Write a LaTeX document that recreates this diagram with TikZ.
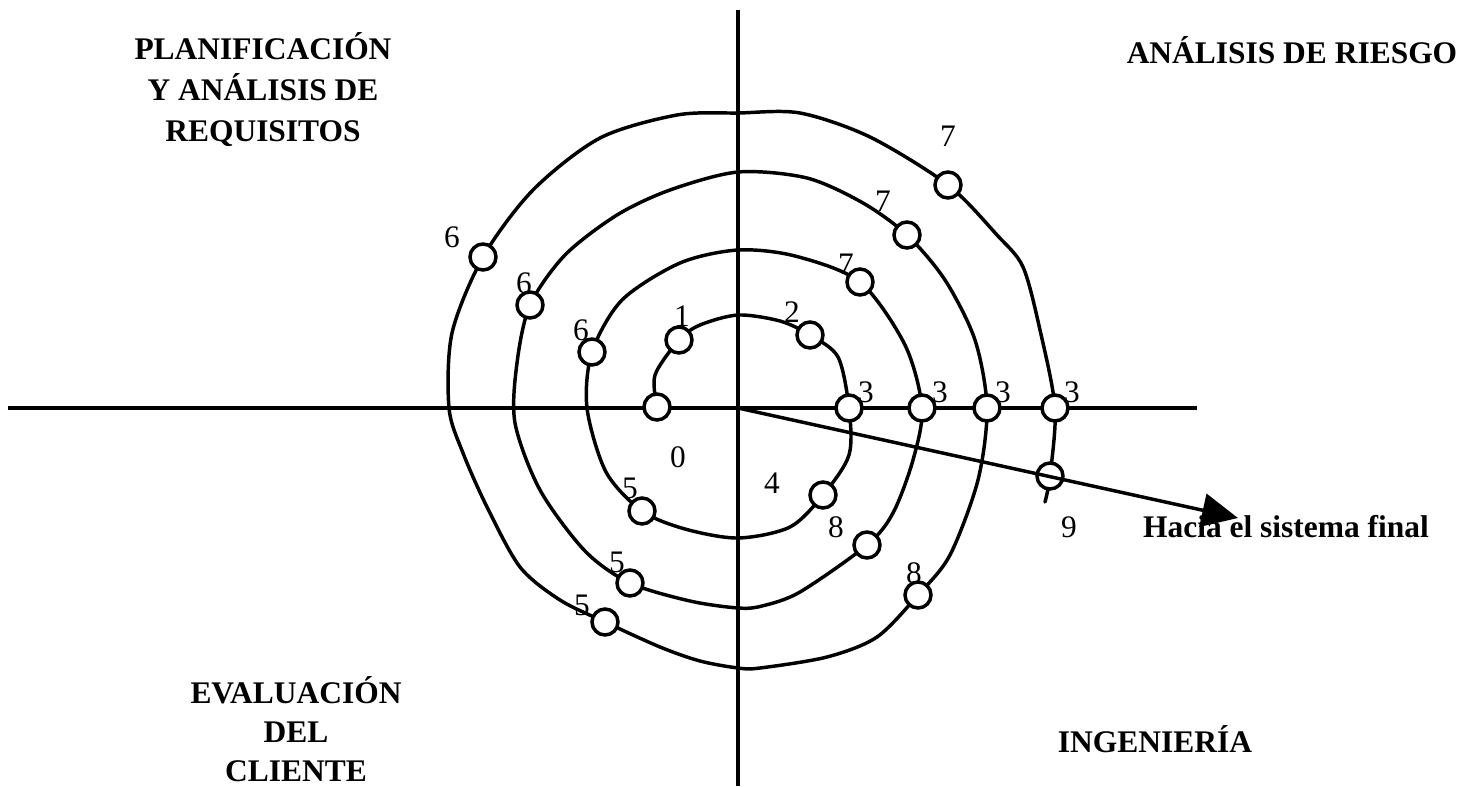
\documentclass[tikz,border=0pt]{standalone}
\usepackage{fontspec}
\setmainfont{Liberation Serif}
\usetikzlibrary{arrows.meta}
\begin{document}
\begin{tikzpicture}[x=0.75pt,y=-0.75pt,
  axis/.style={line width=2.8pt},
  spiral/.style={line width=2.6pt, line join=round, line cap=round},
  pt/.style={circle, draw, fill=white, line width=2.6pt, minimum size=19.5pt, inner sep=0pt},
  num/.style={font=\fontsize{23.5pt}{28pt}\selectfont, inner sep=0pt},
  title/.style={font=\fontsize{23.6pt}{30.75pt}\selectfont\bfseries, align=center, inner sep=0pt},
]
\useasboundingbox (0,0) rectangle (1478,786);
% axes
\coordinate (o) at (738,408);
\coordinate (vt) at (738,10);
\coordinate (vb) at (738,786);
\coordinate (hl) at (8,408);
\coordinate (hr) at (1197,408);
\draw[axis] (vt) -- (vb);
\draw[axis] (hl) -- (hr);
% circle positions
\coordinate (p0) at (657,407);
\coordinate (p1) at (679,340);
\coordinate (p2) at (810,335);
\coordinate (p3a) at (849,408);
\coordinate (p8a) at (823,495);
\coordinate (p5a) at (642,511);
\coordinate (p6a) at (592,352);
\coordinate (p7a) at (860,282);
\coordinate (p3b) at (922,408);
\coordinate (p8b) at (867,545);
\coordinate (p5b) at (630,583);
\coordinate (p6b) at (530,305);
\coordinate (p7b) at (907,235);
\coordinate (p3c) at (987,408);
\coordinate (p8c) at (918,595);
\coordinate (p5c) at (605,622);
\coordinate (p6c) at (483,257);
\coordinate (p7c) at (948,185);
\coordinate (p3d) at (1055,408);
\coordinate (p9) at (1050,476);
\coordinate (pend) at (1045,502);
\coordinate (tip) at (1238,518);
% spiral
\draw[spiral] plot[smooth, tension=0.5] coordinates {
 (p0) (655,375) (p1) (700,325) (738,315) (780,321) (p2) (838,357) (p3a)
 (849,455) (p8a) (790,527) (738,538) (685,529) (p5a) (606,472) (587,408)
 (p6a) (622,300) (680,263) (738,250) (795,256) (p7a) (905,345) (p3b)
 (913,460) (893,513) (p8b) (800,592) (762,606) (738,608) (690,601) (p5b)
 (585,551) (540,490) (515,423) (517,363) (p6b) (565,255) (617,215) (670,190)
 (738,172) (807,178) (863,203) (p7b) (945,280) (975,340) (p3c)
 (978,480) (950,555) (p8c) (877,637) (827,657) (760,668) (738,668) (700,661)
 (660,647) (p5c) (560,600) (520,567) (487,507) (463,453) (449,408) (452,333)
 (p6c) (533,190) (600,138) (677,115) (738,113) (800,113) (870,137) (p7c)
 (997,235) (1023,267) (1040,330) (p3d) (p9) (pend)};
% circles
\foreach \n in {0,1,2,3a,8a,5a,6a,7a,3b,8b,5b,6b,7b,3c,8c,5c,6c,7c,3d,9}
  \node[pt] (c\n) at (p\n) {};
% arrow
\draw[line width=2.6pt, -{Triangle[length=27pt,width=25pt]}] (o) -- (tip);
% numbers
\node[num] (l6c) at (452,237) {6};
\node[num] (l6b) at (524,283) {6};
\node[num] (l6a) at (581,330) {6};
\node[num] (l1) at (682,316) {1};
\node[num] (l2) at (792,312) {2};
\node[num] (l7a) at (846,264) {7};
\node[num] (l7b) at (883,201) {7};
\node[num] (l7c) at (948,136) {7};
\node[num] (l3a) at (866,392) {3};
\node[num] (l3b) at (940,392) {3};
\node[num] (l3c) at (1003,392) {3};
\node[num] (l3d) at (1072,392) {3};
\node[num] (l0) at (678,457) {0};
\node[num] (l4) at (772,483) {4};
\node[num] (l5a) at (630,488) {5};
\node[num] (l5b) at (617,562) {5};
\node[num] (l5c) at (582,605) {5};
\node[num] (l8b) at (836,527) {8};
\node[num] (l8c) at (914,573) {8};
\node[num, anchor=base] (l9) at (1069,537) {9};
% titles
\node[title] (tpl) at (263,90) {PLANIFICACIÓN\\Y ANÁLISIS DE\\REQUISITOS};
\node[title, anchor=base] (tar) at (1292,63) {ANÁLISIS DE RIESGO};
\node[title, font=\fontsize{23.6pt}{29.25pt}\selectfont\bfseries] (tev) at (296,729) {EVALUACIÓN\\DEL\\CLIENTE};
\node[title, anchor=base] (ting) at (1155,752) {INGENIERÍA};
\node[title, anchor=base] (thf) at (1286,537) {Hacia el sistema final};
\end{tikzpicture}
\end{document}
